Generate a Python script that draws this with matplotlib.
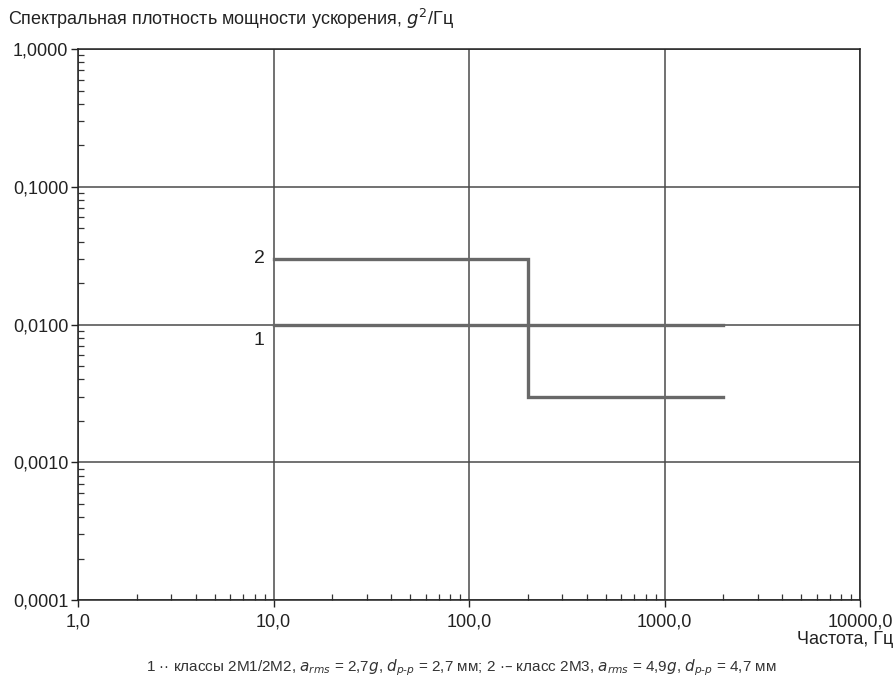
import numpy as np
import matplotlib
matplotlib.use("Agg")
import matplotlib.pyplot as plt
from matplotlib.ticker import LogLocator, FixedLocator, NullFormatter

plt.rcParams['font.family'] = ['Liberation Sans', 'DejaVu Sans']

# curve 1: classes 2M1/2M2
freq_1 = [10.0, 2000.0]
psd_1 = [0.01, 0.01]
# curve 2: class 2M3
freq_2 = [10.0, 200.0, 200.0, 2000.0]
psd_2 = [0.03, 0.03, 0.003, 0.003]

x_ticks = [1, 10, 100, 1000, 10000]
x_labels = ["1,0", "10,0", "100,0", "1000,0", "10000,0"]
y_ticks = [0.0001, 0.001, 0.01, 0.1, 1.0]
y_labels = ["0,0001", "0,0010", "0,0100", "0,1000", "1,0000"]

fig = plt.figure(figsize=(8.95, 6.91), dpi=100)
ax = fig.add_axes([0.0872, 0.1317, 0.8738, 0.7973])

ax.set_xscale("log")
ax.set_yscale("log")
ax.set_xlim(1, 10000)
ax.set_ylim(0.0001, 1.0)

ax.xaxis.set_major_locator(FixedLocator(x_ticks))
ax.set_xticklabels(x_labels)
ax.yaxis.set_major_locator(FixedLocator(y_ticks))
ax.set_yticklabels(y_labels)
ax.xaxis.set_minor_locator(LogLocator(base=10, subs=np.arange(2, 10)))
ax.yaxis.set_minor_locator(LogLocator(base=10, subs=np.arange(2, 10)))
ax.xaxis.set_minor_formatter(NullFormatter())
ax.yaxis.set_minor_formatter(NullFormatter())

ax.tick_params(which="major", direction="out", length=5, width=1, color="#222",
               labelsize=13, labelcolor="#222", pad=2)
ax.tick_params(which="minor", direction="in", length=4, width=0.9, color="#333")
ax.tick_params(axis="x", which="major", pad=5)

ax.grid(which="major", color="#4a4a4a", linewidth=1.1)
for s in ax.spines.values():
    s.set_color("#222")
    s.set_linewidth(1.1)

ax.plot(freq_1, psd_1, color="#686868", linewidth=2.4, solid_joinstyle="miter")
ax.plot(freq_2, psd_2, color="#686868", linewidth=2.4, solid_joinstyle="miter")

ax.text(9.0, 0.03, "2", ha="right", va="center", fontsize=14, color="#222")
ax.text(9.0, 0.0088, "1", ha="right", va="top", fontsize=14, color="#222")

fig.text(0.009, 0.973, "Спектральная плотность мощности ускорения, $g^2$/Гц",
         ha="left", va="center", fontsize=13, color="#222")
fig.text(0.998, 0.075, "Частота, Гц", ha="right", va="center",
         fontsize=13, color="#222")
fig.text(0.515, 0.033,
         "1 ·· классы 2М1/2М2, $a_{rms}$ = 2,7$g$, $d_{p\\text{-}p}$ = 2,7 мм; "
         "2 ·– класс 2М3, $a_{rms}$ = 4,9$g$, $d_{p\\text{-}p}$ = 4,7 мм",
         ha="center", va="center", fontsize=11, color="#333")

fig.savefig("out.png", dpi=100)
